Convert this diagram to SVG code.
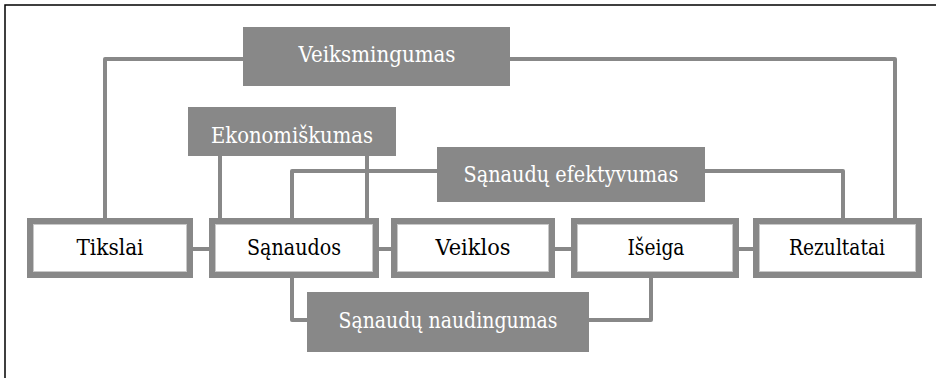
<svg xmlns="http://www.w3.org/2000/svg" width="936" height="378" viewBox="0 0 936 378">
<style>
.frame{fill:none;stroke:#000;stroke-width:1.5}
.gbox{fill:#888888}
.wbox{fill:#fff;stroke:#888888;stroke-width:6}
.inner{fill:none;stroke:#c8c8c8;stroke-width:1}
.ln{fill:none;stroke:#888888;stroke-width:4;stroke-linejoin:round}
.wt{font-family:"DejaVu Serif","Liberation Serif",serif;font-size:22px;font-weight:normal;fill:#fff;text-anchor:middle}
.bt{font-family:"DejaVu Serif","Liberation Serif",serif;font-size:22px;font-weight:normal;fill:#000;text-anchor:middle}
</style>
<rect width="936" height="378" fill="#fff"/>
<path class="frame" d="M5,378 V5 H936"/>
<g id="connectors">
<path class="ln" d="M243,59 H105 V218"/>
<path class="ln" d="M510,59 H895 V218"/>
<path class="ln" d="M220,156 V218"/>
<path class="ln" d="M367,156 V218"/>
<path class="ln" d="M437,171 H292 V218"/>
<path class="ln" d="M705,171 H843 V218"/>
<path class="ln" d="M292,278 V320 H307"/>
<path class="ln" d="M589,320 H651 V278"/>
<path class="ln" d="M193,249 H209 M379,249 H391 M555,249 H571 M739,249 H753"/>
</g>
<g id="veiksmingumas">
<rect class="gbox" x="243" y="27" width="267" height="59"/>
<text class="wt" x="377" y="62" textLength="157" lengthAdjust="spacingAndGlyphs">Veiksmingumas</text>
</g>
<g id="ekonomiskumas">
<rect class="gbox" x="188" y="107" width="208" height="49"/>
<text class="wt" x="292" y="143" textLength="162" lengthAdjust="spacingAndGlyphs">Ekonomiškumas</text>
</g>
<g id="efektyvumas">
<rect class="gbox" x="437" y="147" width="268" height="55"/>
<text class="wt" x="571" y="182" textLength="215" lengthAdjust="spacingAndGlyphs">Sąnaudų efektyvumas</text>
</g>
<g id="naudingumas">
<rect class="gbox" x="307" y="292" width="282" height="60"/>
<text class="wt" x="448" y="328" textLength="219" lengthAdjust="spacingAndGlyphs">Sąnaudų naudingumas</text>
</g>
<g id="tikslai">
<rect class="wbox" x="30" y="221" width="160" height="54"/>
<rect class="inner" x="33.5" y="224.5" width="153" height="47"/>
<text class="bt" x="110" y="255" textLength="67" lengthAdjust="spacingAndGlyphs">Tikslai</text>
</g>
<g id="sanaudos">
<rect class="wbox" x="212" y="221" width="164" height="54"/>
<rect class="inner" x="215.5" y="224.5" width="157" height="47"/>
<text class="bt" x="294" y="255" textLength="94" lengthAdjust="spacingAndGlyphs">Sąnaudos</text>
</g>
<g id="veiklos">
<rect class="wbox" x="394" y="221" width="158" height="54"/>
<rect class="inner" x="397.5" y="224.5" width="151" height="47"/>
<text class="bt" x="473" y="255" textLength="75" lengthAdjust="spacingAndGlyphs">Veiklos</text>
</g>
<g id="iseiga">
<rect class="wbox" x="574" y="221" width="162" height="54"/>
<rect class="inner" x="577.5" y="224.5" width="155" height="47"/>
<text class="bt" x="656" y="255" textLength="57" lengthAdjust="spacingAndGlyphs">Išeiga</text>
</g>
<g id="rezultatai">
<rect class="wbox" x="756" y="221" width="163" height="54"/>
<rect class="inner" x="759.5" y="224.5" width="156" height="47"/>
<text class="bt" x="837" y="255" textLength="96" lengthAdjust="spacingAndGlyphs">Rezultatai</text>
</g>
</svg>
